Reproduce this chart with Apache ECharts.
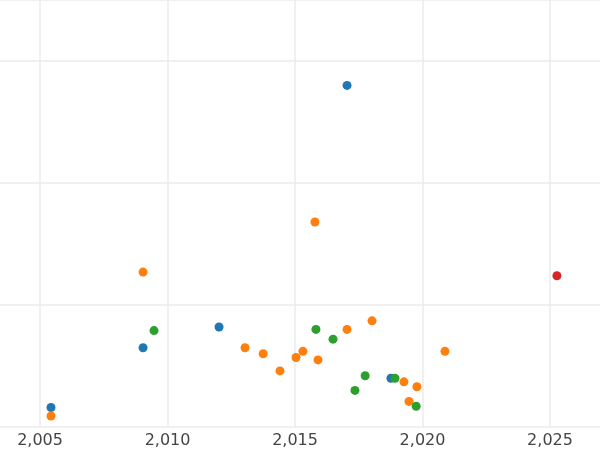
<!DOCTYPE html>
<html>
<head>
<meta charset="utf-8">
<script src="https://cdn.jsdelivr.net/npm/echarts@6/dist/echarts.min.js"></script>
<style>html,body{margin:0;padding:0;background:#fff}#chart{width:600px;height:450px}</style>
</head>
<body>
<div id="chart"></div>
<script>
var yearTicks = [2005, 2010, 2015, 2020, 2025];
var blueSeries = [[2005.43, 0.16], [2009.04, 0.65], [2012.02, 0.82], [2017.04, 2.80], [2018.76, 0.40]];
var orangeSeries = [[2005.43, 0.09], [2009.04, 1.27], [2013.04, 0.65], [2013.75, 0.60], [2014.41, 0.46],
    [2015.04, 0.57], [2015.31, 0.62], [2015.78, 1.68], [2015.9, 0.55], [2017.04, 0.80],
    [2018.02, 0.87], [2019.27, 0.37], [2019.47, 0.21], [2019.78, 0.33], [2020.88, 0.62]];
var greenSeries = [[2009.47, 0.79], [2015.82, 0.80], [2016.49, 0.72], [2017.35, 0.30],
    [2017.75, 0.42], [2018.92, 0.40], [2019.75, 0.17]];
var redSeries = [[2025.27, 1.24]];

var chart = echarts.init(document.getElementById('chart'));
function sc(data, color) {
    return { type: 'scatter', data: data, symbolSize: 9, itemStyle: { color: color, opacity: 1 } };
}
chart.setOption({
    animation: false,
    grid: { left: 0, right: 0, top: 0, bottom: 23 },
    xAxis: {
        type: 'value', min: 2003.43, max: 2026.96,
        axisLine: { show: false }, axisTick: { show: false, customValues: yearTicks },
        axisLabel: { customValues: yearTicks, color: '#444', fontSize: 16, margin: 6, fontFamily: 'DejaVu Sans' },
        splitLine: { show: true, lineStyle: { color: '#ebebeb', width: 1.5 } }
    },
    yAxis: {
        type: 'value', min: 0, max: 3.5, interval: 1,
        axisLine: { show: false }, axisTick: { show: false }, axisLabel: { show: false },
        splitLine: { lineStyle: { color: '#ebebeb', width: 1.5 } }
    },
    series: [
        sc(blueSeries, '#1f77b4'),
        sc(orangeSeries, '#ff7f0e'),
        sc(greenSeries, '#2ca02c'),
        sc(redSeries, '#d62728')
    ]
});
</script>
</body>
</html>
